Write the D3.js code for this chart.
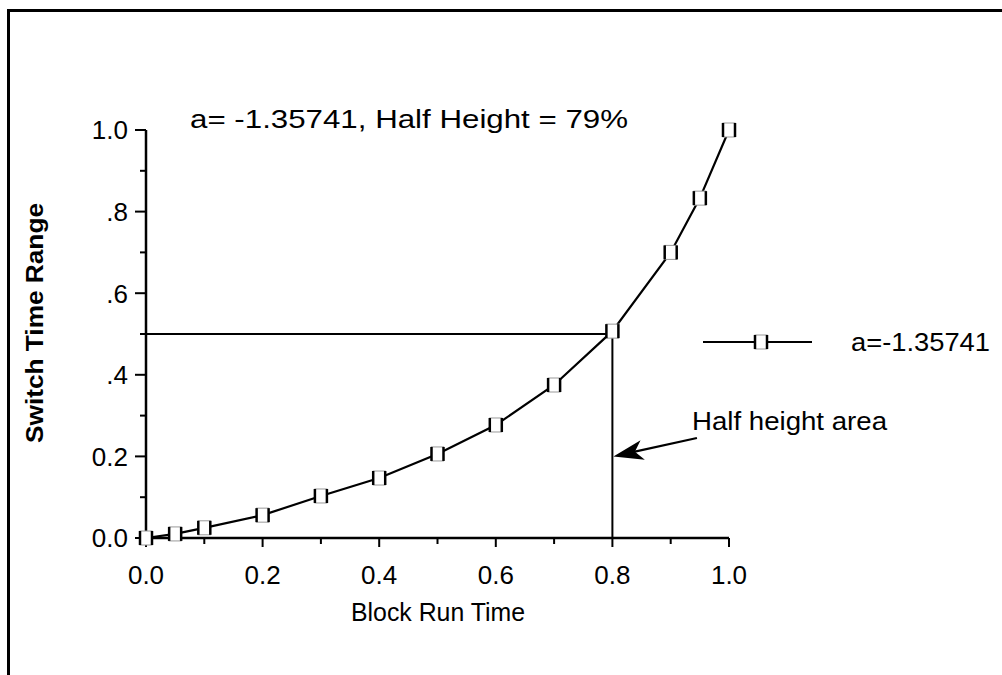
<!DOCTYPE html>
<html>
<head>
<meta charset="utf-8">
<script src="https://cdn.jsdelivr.net/npm/d3@7"></script>
<style>
  body { margin: 0; background: #fff; }
  svg { display: block; }
</style>
</head>
<body>
<div id="chart"></div>
<script>
// data
const blockRunTime = [0, 0.05, 0.1, 0.2, 0.3, 0.4, 0.5, 0.6, 0.7, 0.8, 0.9, 0.95, 1.0];
const switchTimeRange = [0, 0.01, 0.025, 0.056, 0.103, 0.147, 0.206, 0.277, 0.375, 0.507, 0.70, 0.833, 1.0];
const xTickValues = [0, 0.2, 0.4, 0.6, 0.8, 1.0];
const xTickLabels = ['0.0', '0.2', '0.4', '0.6', '0.8', '1.0'];
const yTickValues = [0, 0.2, 0.4, 0.6, 0.8, 1.0];
const yTickLabels = ['0.0', '0.2', '.4', '.6', '.8', '1.0'];
const minorTicks = [0.1, 0.3, 0.5, 0.7, 0.9];
const halfHeight = [0.8, 0.5];
const arrowTail = [0.945, 0.245];
const arrowTip = [0.8, 0.2];

var width = 1002, height = 675;
var svg = d3.select('#chart').append('svg')
    .attr('width', width)
    .attr('height', height)
    .attr('font-family', 'Liberation Sans, Arial, sans-serif');

// outer frame (top + left only visible)
svg.append('path')
    .attr('d', 'M8.5,675 L8.5,10.5 L1002,10.5')
    .attr('fill', 'none')
    .attr('stroke', '#000')
    .attr('stroke-width', 3);

var x = d3.scaleLinear().domain([0, 1]).range([146, 729]);
var y = d3.scaleLinear().domain([0, 1]).range([538, 130]);

var fs = 26;

// x axis
var xAxis = svg.append('g').attr('transform', 'translate(0,' + y(0) + ')');
xAxis.append('line')
    .attr('x1', x(0)).attr('x2', x(1))
    .attr('stroke', '#000').attr('stroke-width', 2.5);
xAxis.selectAll('.maj').data(xTickValues).enter().append('line')
    .attr('x1', d => x(d)).attr('x2', d => x(d))
    .attr('y1', 0).attr('y2', 9)
    .attr('stroke', '#000').attr('stroke-width', 2);
xAxis.selectAll('.min').data(minorTicks).enter().append('line')
    .attr('x1', d => x(d)).attr('x2', d => x(d))
    .attr('y1', 0).attr('y2', 6)
    .attr('stroke', '#000').attr('stroke-width', 2);
xAxis.selectAll('text').data(xTickValues).enter().append('text')
    .attr('x', d => x(d))
    .attr('y', 46)
    .attr('text-anchor', 'middle')
    .style('font-size', fs + 'px')
    .text((d, i) => xTickLabels[i]);

// y axis
var yAxis = svg.append('g').attr('transform', 'translate(' + x(0) + ',0)');
yAxis.append('line')
    .attr('y1', y(0)).attr('y2', y(1))
    .attr('stroke', '#000').attr('stroke-width', 2.5);
yAxis.selectAll('.maj').data(yTickValues).enter().append('line')
    .attr('y1', d => y(d)).attr('y2', d => y(d))
    .attr('x1', -11).attr('x2', 0)
    .attr('stroke', '#000').attr('stroke-width', 2);
yAxis.selectAll('.min').data(minorTicks).enter().append('line')
    .attr('y1', d => y(d)).attr('y2', d => y(d))
    .attr('x1', -6).attr('x2', 0)
    .attr('stroke', '#000').attr('stroke-width', 2);
yAxis.selectAll('text').data(yTickValues).enter().append('text')
    .attr('x', -18)
    .attr('y', d => y(d))
    .attr('dy', '0.36em')
    .attr('text-anchor', 'end')
    .style('font-size', fs + 'px')
    .text((d, i) => yTickLabels[i]);

// axis titles
svg.append('text')
    .attr('x', 438)
    .attr('y', 621)
    .attr('text-anchor', 'middle')
    .style('font-size', fs + 'px')
    .attr('textLength', 174)
    .attr('lengthAdjust', 'spacingAndGlyphs')
    .text('Block Run Time');

svg.append('text')
    .attr('transform', 'translate(43,' + 323 + ') rotate(-90)')
    .attr('text-anchor', 'middle')
    .style('font-size', '24px')
    .style('font-weight', 700)
    .attr('textLength', 240)
    .attr('lengthAdjust', 'spacingAndGlyphs')
    .text('Switch Time Range');

// chart title
svg.append('text')
    .attr('x', 190)
    .attr('y', 128)
    .style('font-size', fs + 'px')
    .attr('textLength', 438)
    .attr('lengthAdjust', 'spacingAndGlyphs')
    .text('a= -1.35741, Half Height = 79%');

// half height guide lines
svg.append('path')
    .attr('d', 'M' + x(0) + ',' + y(halfHeight[1]) + ' L' + x(halfHeight[0]) + ',' + y(halfHeight[1]) +
        ' L' + x(halfHeight[0]) + ',' + y(0))
    .attr('fill', 'none')
    .attr('stroke', '#000')
    .attr('stroke-width', 2);

// curve
var line = d3.line()
    .x(d => x(d[0]))
    .y(d => y(d[1]));
var pts = blockRunTime.map((d, i) => [d, switchTimeRange[i]]);
svg.append('path')
    .datum(pts)
    .attr('d', line)
    .attr('fill', 'none')
    .attr('stroke', '#000')
    .attr('stroke-width', 2.2);

function marker(g, cx, cy) {
    g.append('rect')
        .attr('x', cx - 6).attr('y', cy - 7)
        .attr('width', 12).attr('height', 14)
        .attr('fill', '#fff')
        .attr('stroke', '#999').attr('stroke-width', 1);
    g.append('line')
        .attr('x1', cx - 6).attr('x2', cx - 6)
        .attr('y1', cy - 7).attr('y2', cy + 7)
        .attr('stroke', '#000').attr('stroke-width', 2.5);
    g.append('line')
        .attr('x1', cx + 6).attr('x2', cx + 6)
        .attr('y1', cy - 7).attr('y2', cy + 7)
        .attr('stroke', '#000').attr('stroke-width', 2.5);
}

var mk = svg.append('g');
pts.forEach(d => marker(mk, x(d[0]), y(d[1])));

// legend
var leg = svg.append('g');
leg.append('line')
    .attr('x1', 703).attr('x2', 812)
    .attr('y1', 342).attr('y2', 342)
    .attr('stroke', '#000').attr('stroke-width', 2.2);
marker(leg, 761, 342);
leg.append('text')
    .attr('x', 851)
    .attr('y', 342)
    .attr('dy', '0.36em')
    .style('font-size', fs + 'px')
    .attr('textLength', 139)
    .attr('lengthAdjust', 'spacingAndGlyphs')
    .text('a=-1.35741');

// annotation
svg.append('text')
    .attr('x', 692)
    .attr('y', 430)
    .style('font-size', fs + 'px')
    .attr('textLength', 195)
    .attr('lengthAdjust', 'spacingAndGlyphs')
    .text('Half height area');

var tx = x(arrowTip[0]) + 1, ty = y(arrowTip[1]);
var sx = x(arrowTail[0]), sy = y(arrowTail[1]);
var ang = Math.atan2(ty - sy, tx - sx);
var headLen = 30, headW = 10;
var bx = tx - headLen * Math.cos(ang), by = ty - headLen * Math.sin(ang);
var nx = -Math.sin(ang), ny = Math.cos(ang);
svg.append('line')
    .attr('x1', sx).attr('y1', sy)
    .attr('x2', bx + 8 * Math.cos(ang)).attr('y2', by + 8 * Math.sin(ang))
    .attr('stroke', '#000').attr('stroke-width', 2.2);
svg.append('path')
    .attr('d', 'M' + tx + ',' + ty +
        ' L' + (bx + headW * nx) + ',' + (by + headW * ny) +
        ' L' + (bx + 8 * Math.cos(ang)) + ',' + (by + 8 * Math.sin(ang)) +
        ' L' + (bx - headW * nx) + ',' + (by - headW * ny) + 'Z')
    .attr('fill', '#000');
</script>
</body>
</html>
